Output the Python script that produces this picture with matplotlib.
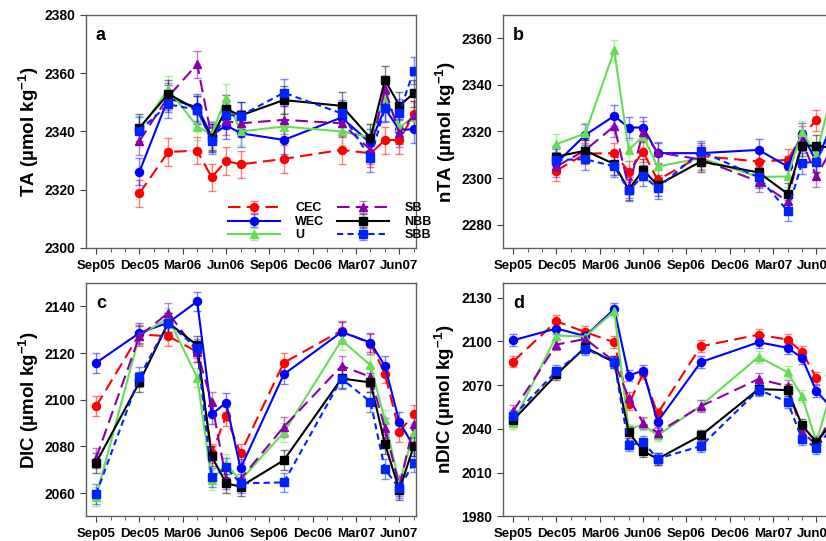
import numpy as np
import matplotlib
matplotlib.use('Agg')
import matplotlib.pyplot as plt
from matplotlib.colors import to_rgba
from matplotlib.ticker import MultipleLocator, FixedLocator

plt.rcParams['font.family'] = 'Liberation Sans'
plt.rcParams['font.weight'] = 'bold'
plt.rcParams['mathtext.fontset'] = 'custom'
plt.rcParams['mathtext.rm'] = 'Liberation Sans:bold'
plt.rcParams['mathtext.bf'] = 'Liberation Sans:bold'

# sampling times, months counted from Sep 2005
months = [0, 3, 5, 7, 8, 9, 10, 13, 17, 19, 20, 21, 22]
tick_months = [0, 3, 6, 9, 12, 15, 18, 21]
tick_labels = ['Sep05', 'Dec05', 'Mar06', 'Jun06', 'Sep06', 'Dec06', 'Mar07', 'Jun07']

regions = ['CEC', 'WEC', 'U', 'SB', 'NBB', 'SBB']
nan = np.nan

# TA (µmol/kg), no sampling in Sep05
ta_cec = [nan, 2318.8, 2333.0, 2333.4, 2324.3, 2329.9, 2328.7, 2330.6, 2333.7, 2332.5, 2337.0, 2337.1, 2345.9]
ta_wec = [nan, 2326.2, 2351.4, 2348.3, 2338.5, 2342.2, 2339.4, 2337.1, 2344.8, 2336.0, 2348.0, 2340.5, 2340.8]
ta_u   = [nan, 2340.5, 2354.5, 2341.7, 2339.0, 2351.6, 2340.0, 2341.7, 2340.0, 2338.0, 2352.0, 2341.4, 2345.0]
ta_sb  = [nan, 2336.7, 2352.0, 2363.1, 2338.0, 2343.6, 2342.8, 2344.0, 2342.8, 2333.7, 2354.5, 2339.4, 2345.7]
ta_nbb = [nan, 2341.3, 2352.9, 2347.4, 2337.7, 2347.7, 2345.5, 2350.8, 2348.8, 2337.7, 2357.7, 2348.9, 2353.1]
ta_sbb = [nan, 2340.3, 2349.3, 2347.5, 2336.8, 2345.7, 2345.4, 2353.3, 2346.2, 2330.8, 2348.2, 2346.5, 2360.9]

# salinity-normalised TA
nta_cec = [nan, 2303.2, 2310.5, 2310.7, 2302.8, 2311.3, 2299.2, 2309.5, 2307.1, 2307.8, 2318.0, 2324.9, 2327.0]
nta_wec = [nan, 2306.5, 2318.5, 2326.7, 2321.7, 2321.7, 2310.7, 2310.7, 2312.1, 2305.0, 2319.0, 2307.0, 2322.0]
nta_u   = [nan, 2314.6, 2319.2, 2354.8, 2312.0, 2318.0, 2305.0, 2308.5, 2300.5, 2300.7, 2319.9, 2310.0, 2335.0]
nta_sb  = [nan, 2305.0, 2312.0, 2322.3, 2296.0, 2319.9, 2311.0, 2308.0, 2298.5, 2290.0, 2316.0, 2300.7, 2312.0]
nta_nbb = [nan, 2309.2, 2311.8, 2306.0, 2295.0, 2303.5, 2297.0, 2307.1, 2302.4, 2293.3, 2313.9, 2313.9, 2313.0]
nta_sbb = [nan, 2307.8, 2308.1, 2305.0, 2294.7, 2301.0, 2295.7, 2311.5, 2300.4, 2286.0, 2306.4, 2307.1, 2320.0]

# DIC
dic_cec = [2097.2, 2128.0, 2127.2, 2120.5, 2077.0, 2092.9, 2077.0, 2115.9, 2129.6, 2124.0, 2111.2, 2086.3, 2093.7]
dic_wec = [2115.8, 2128.6, 2133.0, 2142.1, 2093.7, 2098.8, 2070.6, 2110.9, 2129.0, 2124.5, 2114.5, 2090.5, 2080.0]
dic_u   = [2058.5, 2127.5, 2135.0, 2109.5, 2065.5, 2072.5, 2065.5, 2086.0, 2125.5, 2114.8, 2091.2, 2064.0, 2086.3]
dic_sb  = [2075.0, 2127.2, 2137.2, 2120.5, 2099.1, 2066.0, 2066.0, 2088.4, 2114.5, 2109.8, 2088.0, 2063.0, 2089.4]
dic_nbb = [2073.0, 2107.5, 2133.0, 2123.3, 2075.8, 2064.2, 2062.8, 2074.1, 2109.1, 2107.4, 2081.1, 2061.3, 2080.3]
dic_sbb = [2059.6, 2109.8, 2132.9, 2122.0, 2066.7, 2071.0, 2064.2, 2064.6, 2109.0, 2099.1, 2070.3, 2062.0, 2073.1]

# salinity-normalised DIC
ndic_cec = [2086.2, 2113.8, 2106.3, 2099.4, 2056.8, 2078.0, 2050.6, 2096.6, 2104.6, 2101.2, 2092.8, 2075.0, 2077.0]
ndic_wec = [2100.8, 2108.8, 2103.6, 2122.2, 2076.6, 2080.0, 2044.9, 2085.8, 2099.4, 2095.6, 2088.7, 2065.9, 2055.0]
ndic_u   = [2044.2, 2104.0, 2103.3, 2120.7, 2039.6, 2043.2, 2035.5, 2056.0, 2089.4, 2078.9, 2062.5, 2031.0, 2065.0]
ndic_sb  = [2052.2, 2097.8, 2101.7, 2086.3, 2061.3, 2044.2, 2037.4, 2055.6, 2074.2, 2069.3, 2038.0, 2029.0, 2048.0]
ndic_nbb = [2046.0, 2077.3, 2096.0, 2085.7, 2037.8, 2024.8, 2019.5, 2035.5, 2067.3, 2066.6, 2042.5, 2031.0, 2043.0]
ndic_sbb = [2048.8, 2079.6, 2095.0, 2086.0, 2028.7, 2031.0, 2019.6, 2028.2, 2066.8, 2058.6, 2033.2, 2027.1, 2040.0]

# standard deviation shown as error bars
err_ta, err_nta, err_dic, err_ndic = 4.7, 4.5, 4.2, 4.0

styles = {
    'CEC': dict(color='#ff0000', marker='o', ls=(0, (6, 3))),
    'WEC': dict(color='#0000ff', marker='o', ls='-'),
    'U':   dict(color='#66dd55', marker='^', ls='-'),
    'SB':  dict(color='#8800aa', marker='^', ls=(0, (6, 3))),
    'NBB': dict(color='#000000', marker='s', ls='-'),
    'SBB': dict(color='#0022ff', marker='s', ls=(0, (3, 2))),
}

panels = [
    ('a', 'TA', [ta_cec, ta_wec, ta_u, ta_sb, ta_nbb, ta_sbb], err_ta, (2300, 2380), np.arange(2300, 2381, 20)),
    ('b', 'nTA', [nta_cec, nta_wec, nta_u, nta_sb, nta_nbb, nta_sbb], err_nta, (2270, 2370), np.arange(2280, 2361, 20)),
    ('c', 'DIC', [dic_cec, dic_wec, dic_u, dic_sb, dic_nbb, dic_sbb], err_dic, (2050, 2150), np.arange(2060, 2141, 20)),
    ('d', 'nDIC', [ndic_cec, ndic_wec, ndic_u, ndic_sb, ndic_nbb, ndic_sbb], err_ndic, (1980, 2140), np.arange(1980, 2131, 30)),
]
positions = [
    [0.1041, 0.5416, 0.3995, 0.4307],
    [0.6090, 0.5416, 0.3995, 0.4307],
    [0.1041, 0.0453, 0.3995, 0.4316],
    [0.6090, 0.0453, 0.3995, 0.4316],
]

fig = plt.figure(figsize=(8.26, 5.41), dpi=100)

for (letter, name, series, err, ylim, yticks), pos in zip(panels, positions):
    ax = fig.add_axes(pos)
    for reg, vals in zip(regions, series):
        st = styles[reg]
        ax.errorbar(months, vals, yerr=err, color=st['color'], ls=st['ls'], lw=1.5,
                    marker=st['marker'], ms=5.8, mec=st['color'],
                    ecolor=to_rgba(st['color'], 0.5), elinewidth=1, capsize=3,
                    capthick=1, label=reg)
    ax.set_xlim(-0.7, 22.15)
    ax.set_ylim(*ylim)
    ax.xaxis.set_major_locator(FixedLocator(tick_months))
    ax.xaxis.set_minor_locator(MultipleLocator(1))
    ax.set_xticklabels(tick_labels)
    ax.set_yticks(yticks)
    ax.tick_params(axis='x', which='major', length=4, pad=4.5, labelsize=9.5, color='#404040')
    ax.tick_params(axis='x', which='minor', length=3, color='#404040')
    ax.tick_params(axis='y', length=4, labelsize=10, color='#404040')
    for lab in ax.get_xticklabels() + ax.get_yticklabels():
        lab.set_fontweight('bold')
    for sp in ax.spines.values():
        sp.set_color('#606060')
        sp.set_linewidth(1)
    ax.set_ylabel(name + r' (µmol kg$^{\mathbf{-1}}$)', fontsize=13.5, fontweight='bold', labelpad=3)
    ax.text(0.03, 0.95, letter, transform=ax.transAxes, fontsize=13, fontweight='bold',
            va='top', ha='left')
    if letter == 'a':
        ax.legend(ncol=2, frameon=False, loc='lower left', bbox_to_anchor=(0.395, -0.02),
                  handlelength=4.2, columnspacing=1.0, labelspacing=0.12,
                  handletextpad=1.2, numpoints=1, prop={'weight': 'bold', 'size': 9})

fig.savefig('out.png', dpi=100)
